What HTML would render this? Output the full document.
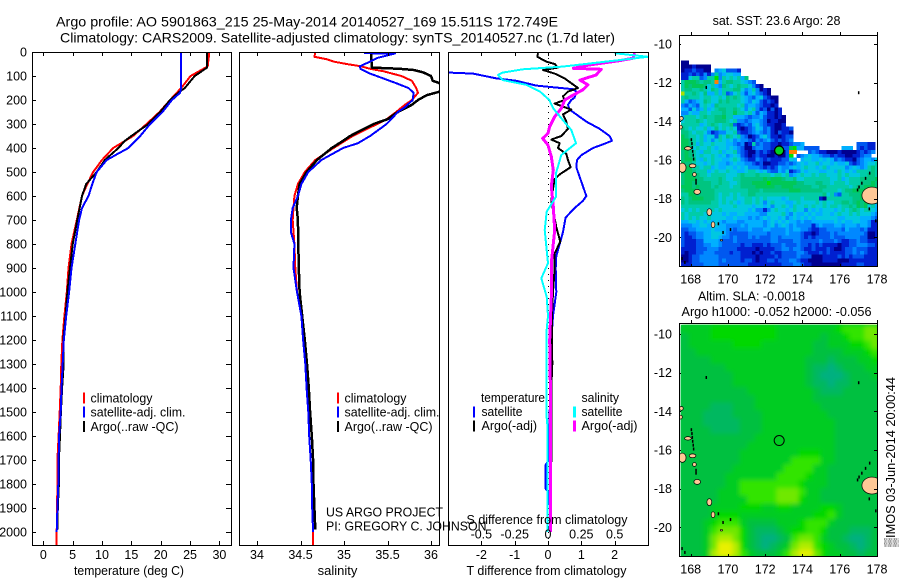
<!DOCTYPE html>
<html lang="en">
<head>
<meta charset="utf-8">
<title>Argo profile 5901863_215</title>
<style>
html,body{margin:0;padding:0;background:#fff;width:900px;height:580px;overflow:hidden}
svg{display:block}
text{font-family:"Liberation Sans",sans-serif;font-size:13px;fill:#000}
.tick{font-size:12.5px}
</style>
</head>
<body>
<svg id="fig" xmlns="http://www.w3.org/2000/svg" width="900" height="580" viewBox="0 0 900 580">
<defs>
<clipPath id="c1"><rect x="32" y="52" width="199" height="494"/></clipPath>
<clipPath id="c2"><rect x="239" y="52" width="200" height="494"/></clipPath>
<clipPath id="c3"><rect x="448" y="52" width="200" height="494"/></clipPath>
<clipPath id="m1"><rect x="679" y="35" width="198" height="232"/></clipPath>
<clipPath id="m2"><rect x="679" y="323" width="198" height="234"/></clipPath>
<filter id="soft" x="-10%" y="-10%" width="120%" height="120%"><feGaussianBlur stdDeviation="2.5"/></filter>
</defs>
<text x="56" y="26.5" style="font-size:14px" textLength="502" lengthAdjust="spacingAndGlyphs">Argo profile: AO 5901863_215 25-May-2014 20140527_169 15.511S 172.749E</text>
<text x="60" y="42.5" style="font-size:14px" textLength="555" lengthAdjust="spacingAndGlyphs">Climatology: CARS2009. Satellite-adjusted climatology: synTS_20140527.nc (1.7d later)</text>

<g id="mapA"></g>
<g id="mapB"></g>
<g id="p1"></g>
<g id="p2"></g>
<g id="p3"></g>

<text x="129" y="575" text-anchor="middle" textLength="110" lengthAdjust="spacingAndGlyphs">temperature (deg C)</text>
<text x="337.5" y="575" text-anchor="middle">salinity</text>
<text x="466.5" y="575" textLength="160" lengthAdjust="spacingAndGlyphs">T difference from climatology</text>
<text x="466.5" y="524" textLength="161" lengthAdjust="spacingAndGlyphs">S difference from climatology</text>

<g>
<rect x="83" y="392.5" width="2" height="11" fill="#f00"/>
<text x="90.5" y="402.5" textLength="62" lengthAdjust="spacingAndGlyphs">climatology</text>
<rect x="83" y="406.5" width="2" height="11" fill="#00f"/>
<text x="90.5" y="416.5" textLength="95" lengthAdjust="spacingAndGlyphs">satellite-adj. clim.</text>
<rect x="83" y="421" width="2" height="11" fill="#000"/>
<text x="90.5" y="431" textLength="88" lengthAdjust="spacingAndGlyphs">Argo(..raw -QC)</text>
</g>
<g>
<rect x="337" y="392.5" width="2" height="11" fill="#f00"/>
<text x="344.5" y="402.5" textLength="62" lengthAdjust="spacingAndGlyphs">climatology</text>
<rect x="337" y="406.5" width="2" height="11" fill="#00f"/>
<text x="344.5" y="416.5" textLength="95" lengthAdjust="spacingAndGlyphs">satellite-adj. clim.</text>
<rect x="337" y="421" width="2" height="11" fill="#000"/>
<text x="344.5" y="431" textLength="88" lengthAdjust="spacingAndGlyphs">Argo(..raw -QC)</text>
</g>
<g>
<text x="481" y="402" textLength="64" lengthAdjust="spacingAndGlyphs">temperature</text>
<rect x="473" y="406.5" width="2" height="11" fill="#00f"/>
<text x="481.5" y="416" textLength="41" lengthAdjust="spacingAndGlyphs">satellite</text>
<rect x="473" y="420.5" width="2" height="11" fill="#000"/>
<text x="481.5" y="430" textLength="55.5" lengthAdjust="spacingAndGlyphs">Argo(-adj)</text>
<text x="581.5" y="402" textLength="37.5" lengthAdjust="spacingAndGlyphs">salinity</text>
<rect x="573" y="406.5" width="3" height="11" fill="#0ff"/>
<text x="581.5" y="416" textLength="41" lengthAdjust="spacingAndGlyphs">satellite</text>
<rect x="573" y="420.5" width="3" height="11" fill="#f0f"/>
<text x="581.5" y="430" textLength="56" lengthAdjust="spacingAndGlyphs">Argo(-adj)</text>
</g>
<text x="326" y="516.5" textLength="117" lengthAdjust="spacingAndGlyphs">US ARGO PROJECT</text>
<text x="326" y="530.5" textLength="160.5" lengthAdjust="spacingAndGlyphs">PI: GREGORY C. JOHNSON</text>

<text x="776.5" y="25" text-anchor="middle" style="font-size:12.5px">sat. SST: 23.6 Argo: 28</text>
<text x="698" y="300.5" textLength="107" lengthAdjust="spacingAndGlyphs" style="font-size:12.5px">Altim. SLA: -0.0018</text>
<text x="681.5" y="316" textLength="190" lengthAdjust="spacingAndGlyphs" style="font-size:12.5px">Argo h1000: -0.052 h2000: -0.056</text>
<text transform="translate(895,547) rotate(-90)" textLength="170" lengthAdjust="spacingAndGlyphs">▒IMOS 03-Jun-2014 20:00:44</text>
</svg>

<script>
/* ---------- profile data ---------- */
const depthTicks = [0,100,200,300,400,500,600,700,800,900,1000,1100,1200,1300,1400,1500,1600,1700,1800,1900,2000];
const tempTicks = [0,5,10,15,20,25,30];
const salTicks = [34,34.5,35,35.5,36];
const tDiffTicks = [-2,-1,0,1,2];
const sDiffTicks = [-0.5,-0.25,0,0.25,0.5];
const sDiffLabels = ['-0.5','-0.25','0','0.25','0.5'];
const tDiffLabels = ['-2','-1','0','1','2'];
const salLabels = ['34','34.5','35','35.5','36'];

const climTempDepth = [0,60,100,150,200,250,300,350,400,450,500,550,600,700,800,900,1000,1100,1200,1300,1400,1500,1600,1700,1800,1900,2000,2057];
const climTemp = [28.3,28,25.1,23.5,21.6,19.8,17.6,15.3,11.9,10,8.5,7.5,6.6,5.7,4.8,4.3,4,3.6,3.25,3.07,2.96,2.8,2.6,2.4,2.4,2.35,2.28,2.28];
const satTempDepth = [0,150,170,200,250,300,350,400,420,450,500,550,600,650,700,800,900,1000,1100,1200,1300,1400,1500,1600,1700,1800,1900,2000];
const satTemp = [23.5,23.5,23.3,21.9,20.3,18.2,16.5,14.5,13,10.8,9.1,8.35,7.7,6.6,6.1,5.45,4.8,4.4,3.9,3.5,3.3,3.1,2.96,2.7,2.6,2.55,2.4,2.28];
const argoTempDepth = [0,65,100,150,170,200,250,300,350,370,400,450,500,550,600,700,800,900,1000,1100,1200,1300,1400,1500,1600,1700,1800,1900,1990];
const argoTemp = [27.9,27.9,25.8,24.1,23,21.6,19.9,17.9,15,13.9,12.8,10.5,9.1,7.3,6.6,5.8,5,4.55,4.1,3.8,3.4,3.47,3.2,3,2.85,2.65,2.65,2.47,2.4];

const climSalDepth = [0,20,30,40,50,60,70,80,100,120,150,170,200,220,250,280,300,350,400,450,500,550,600,650,700,800,900,1000,1100,1200,1300,1400,1500,1600,1700,1800,1900,2000,2057];
const climSal = [34.67,34.66,34.8,34.88,35.03,35.2,35.3,35.45,35.66,35.78,35.83,35.85,35.78,35.7,35.6,35.49,35.38,35.1,34.88,34.67,34.55,34.47,34.43,34.42,34.41,34.43,34.44,34.46,34.51,34.53,34.555,34.57,34.59,34.6,34.617,34.63,34.635,34.645,34.645];
const satSalDepth = [5,6,15,25,40,60,70,90,110,130,150,170,200,230,250,300,350,380,400,450,500,550,600,650,700,750,800,900,1000,1100,1200,1300,1400,1500,1600,1700,1800,1900,2000];
const satSal = [35.23,35.59,35.49,35.38,35.3,35.18,35.19,35.3,35.45,35.6,35.74,35.8,35.79,35.7,35.62,35.49,35.3,35.16,34.99,34.74,34.59,34.51,34.47,34.41,34.39,34.39,34.43,34.42,34.46,34.51,34.53,34.555,34.57,34.59,34.6,34.617,34.63,34.635,34.645];
const argoSalDepth = [0,65,70,75,85,100,120,130,150,165,180,200,220,250,280,300,350,370,400,450,500,550,600,650,700,800,900,1000,1100,1200,1300,1400,1500,1600,1700,1800,1900,1990];
const argoSal = [35.31,35.32,35.64,35.8,35.91,36,36.02,36.1,36.12,36.1,35.95,35.85,35.78,35.62,35.5,35.34,35.07,34.99,34.86,34.69,34.57,34.49,34.47,34.456,34.47,34.475,34.48,34.49,34.52,34.55,34.575,34.595,34.61,34.63,34.645,34.65,34.66,34.67];

const satDiffTDepth = [85,90,110,120,140,155,165,190,200,220,240,260,290,320,350,370,385,400,430,450,480,520,560,600,620,650,690,750,800,850,900,1000,1100,1200,1300,1500,1700,1720,1820,1830,2000];
const satDiffT = [-3.1,-2.25,-1.55,-0.95,-0.35,0.75,0.85,0.8,0.7,0.6,0.65,0.85,1.15,1.55,1.85,1.92,1.65,1.35,1,0.87,0.85,0.95,1.05,1.15,1.05,0.8,0.53,0.45,0.35,0.25,0.23,0.25,0.15,0.1,0.08,0.05,0.02,-0.07,-0.07,0,-0.02];
const argoDiffTDepth = [5,20,40,50,65,75,90,110,130,150,165,185,200,215,240,260,290,320,350,365,380,400,425,450,480,510,530,570,620,730,790,810,840,900,1000,1100,1200,1300,1400,1700,1990];
const argoDiffT = [-0.3,-0.32,-0.05,0.2,0.3,-0.15,0.2,0.5,0.7,0.9,0.6,0.45,0.5,0.2,0.7,0.45,0.55,0.6,0.4,0.1,0.35,0.3,0.55,0.6,0.68,0.35,0.2,0.15,0.1,0.25,0.37,0.3,0.2,0.2,0.15,0.12,0.12,0.13,0.1,0.1,0.05];
const satDiffSDepth = [5,20,43,61,72,86,96,117,137,165,200,235,283,325,380,429,505,603,665,742,880,943,1019,1100,1170,1510,1560,2000];
const satDiffS = [0.5,0.75,0.39,0.11,-0.19,-0.34,-0.375,-0.34,-0.16,-0.06,0.01,0.04,0.11,0.175,0.21,0.1,0.06,0.06,-0.01,-0.025,0,-0.05,-0.01,0,-0.012,-0.012,-0.004,-0.004];
const argoDiffSDepth = [5,26,37,54,68,72,96,117,137,158,179,200,235,269,311,339,360,388,436,492,561,644,742,880,1019,1200,1500,1600,1800,2000];
const argoDiffS = [0.65,0.64,0.525,0.31,0.19,0.4,0.36,0.24,0.3,0.26,0.19,0.125,0.1,0.05,0.0125,0,-0.04,0,0.025,0.04,0.025,0.04,0.05,0.025,0.025,0.0125,0.02,0.018,0.02,0.02];

/* ---------- map data: one letter per cell, '.' = no data ---------- */
const sstLevels = 'abcdefghijkl';
const sstColors = ['#000090','#0020d0','#0058f0','#0088ff','#00b0ff','#00c8e0','#00cca8','#00c480','#00c858','#00e000','#ff8000','#a8e000'];
const sstRows = [
"aa",
"aaabaaaa",
"abbcbbaa.defcccb",
"bbcbcbdbdgdeffee",
"bbfggcdggjdgfgfgeh",
"giiihghhgkeghhggfedc",
"gihiiihfgedhgfghggfdba",
"ghhgghgfhgeggghhfdegdaba",
"lgghgfheegegcdfgecefdcba",
"ghgggfggffgfhghgfedcefcbaa",
"gecdefhgffhghgggfedfecbcba",
"dcedcfgfehgggggfgdeedcbbab",
"eecfdegefghhgghgfdfgdbcacab",
"ddfeeggfggghggiggfgecedbbab",
"egggfghgghhiggeeedcddecbbaba",
"fggghgfgghhhgfgddcdeedcabbaa",
"gggggefghgfgghcbcdcefdcbbaab",
"hgfgffgefhfgfgfbabcdfecdbaabbc",
"hhgfggfdbcddffgcbbcdedcdbacbba",
"ihggfgeffcgfhgfgdcabcefdbbabcc",
"iihgfgefdfgfefdeddcbdcdecbcbcd",
"iihgegffgfffeedcdabgcdccbbabbcdde..............cccbb",
"iihfgffgfeffefedcaacddccbbaccijeecccc......eee.cbcbb",
"hihgfeggffgeffgdcbaacbcbaabackk...cdcbbaaabaaaabcbcd",
"hihgfgffgfefdefecbabcbbaabaacj.cdefeedccbcbbaabbcdd",
"hiihfegfgffeefgfdcbbdcbcbbbccfe.effeefefecdcbbacdeedf",
"ihhgffefgfeedefeeddcbcaabbccdcdefeffgeffefeefcbcdeffg",
"jiiggfggefeeffefefdddcbcbceddefefgffefgeffffdefedeghg",
"iiihgggefgffgffeefggfefdccedfbcdfefffeeffegfefegggghg",
"hiihhggfggggfffghggghgggfggfgdefgffgfggfffgfgfffgghhg",
"hiiihhgggghgffgghhhhhhihiiihgghffgggggggffgefggghhhhi",
"hiihhhhhgghggffghhhiiiijiiiiiiihhggghhggfgggfggghhhih",
"iiihihhhghgggfgghhhhiiiiihhiiihhhhhgghhggggggfghhiiih",
"hiiihhhhhggggggggghhhghhhhhhhiiihhhhhhggggfghhiiiiihg",
"ggiihhhhhgfggfgfgghhgggggggggggggggggghfgdcgghhhiiiif",
"hghiiihhhgfgffgffggfgfgffffefgggfggggbaggggggghhiiiig",
"hghhhhhhggfgfgfefggfgfdfgfffeefgffffgfgffgghhghihiiff",
"ggggggggggffffgffffeffefdffgfegffgfgffgfggfgghgihifge",
"fgfgfggfgfgfffffffefddbdfgffefgffdfefefffefgfghgfggfe",
"gfggggfffffefeeffeeeeddffffgedfeefefeeffefgffgfgfffed",
"gfgfgffgffffeefeeededefeffefdefefefeffffffeeffffeeedc",
"eeffefefefedeeeddeeeeedefefefeededdeeeeeefefeeffeedbb",
"dddeeffeffeeddddedeeeedefdefededdddbdedddeedeeedeedbb",
"ccddeeeefeeeddcdddedddeeddddedeeddcbbccddddcedddcdbbb",
"cbccddeefffedcccccdddddcddddedddcbbabcccdcdddddddcaab",
"cbbcddeeffeddcdcccdcdcccddcdddddcbcbccccdcccddddccaab",
"cbbbcceeeedcccdcccccccccddccccddcccccdcccdcbbccdccbbb",
"cbbbccddeedcccccbccbbbcbcccdcccdccbcbcbbbbabbccdddccb",
"bbbbcccdddcccccbbbbbabbbbccddcddcbbcbbbcbaabccdcccbbb",
"babbccdddccccbccbbbababbcbbccccddcbbbcbcbbbbccdcdcbbb",
"aabccdddddccccccbbbbabbbbcbccccdcccaaabbbbcbcbcccbbbb",
"aabccdddddcdccccbccbabbccbcccddcbbaaaabbbbaaabbbbbbbb",
"bbbcccddddccccccccbbbbbbbbbcccddcbbaaaaaaaabbbbccbbbb",
"bbbcccddddccccccccbbbbbbbbbcccddcbbaaaaaaaabbbbccbbbb"
];
const slaColors = ['#00b080','#00b860','#00c040','#00cc20','#00d800','#30e400','#70e800','#b0ec00','#e8f000'];
const slaRows = [
"333344444444433333333455566",
"233344444444433333323345566",
"233333344443333333223334456",
"223333333333333333222233345",
"222233333333333332221222334",
"222222333333333332110122233",
"222222233333333332100012223",
"222222233333333332110112222",
"222222222333333333211122222",
"222222222233333333222222222",
"222211122233333333322222222",
"222111122223333333332222222",
"222111112223333333333222222",
"222211112223333333333222222",
"222222222233333333333222222",
"222222222333333333333222222",
"222222223333333344433222222",
"222222223333333555533222222",
"222222233333335555332222222",
"222222333333355554332222222",
"222222335555555543332222222",
"222223335555566653322222222",
"222223333555566643322222222",
"222233334443344333344322222",
"222234443333333333445322222",
"222345553222233345553222222",
"222356664211123445542221112",
"222367764210012566532210012",
"222368874210123677543221012",
"222378875322235788643322122"
];
const lonTicks = [168,170,172,174,176,178];
const latTicks = [-10,-12,-14,-16,-18,-20];
const argoLon = 172.749;
const argoLat = -15.511;
/* islands: lon, lat, radius-lon, radius-lat (degrees) */
const islandLon = [167.5,167.45,167.85,168.1,167.55,168.2,168.35,169.0,169.2,169.65,177.73];
const islandLat = [-13.85,-14.3,-15.4,-16.3,-16.4,-16.75,-17.65,-18.7,-19.35,-20.15,-17.84];
const islandRx = [0.1,0.1,0.18,0.18,0.2,0.1,0.18,0.13,0.1,0.06,0.54];
const islandRy = [0.1,0.1,0.09,0.1,0.24,0.1,0.13,0.18,0.15,0.04,0.44];
/* coastline specks: lon, lat */
const speckLon = [168.05,168.08,168.1,168.12,168.15,168.17,168.3,168.3,168.85,169.5,169.75,170.15,177.03,177.62,177.4,177.2,177.05,176.97,177.6,177.95,167.55,167.7];
const speckLat = [-14.95,-15.15,-15.35,-15.55,-15.75,-15.95,-17.05,-17.2,-12.25,-19.3,-19.75,-19.6,-12.52,-16.68,-16.95,-17.2,-17.4,-17.55,-18.53,-19.15,-21.1,-21.3];

/* ---------- axis functions ---------- */
const yDepth = d => 52 + 0.24 * d;
const xTemp = v => 43.3 + 5.87 * v;
const xSal = v => 257 + 87 * (v - 34);
const xDiffT = v => 548 + 33.3 * v;
const xDiffS = v => 548 + 133.3 * v;
const lonX = v => 690.7 + 18.63 * (v - 168);
const latYA = v => 44 + 19.33 * (-10 - v);
const latYB = v => 334 + 19.33 * (-10 - v);

const NS = 'http://www.w3.org/2000/svg';
function make(tag, parent, attrs) {
  const e = document.createElementNS(NS, tag);
  for (const k in attrs) e.setAttribute(k, attrs[k]);
  parent.appendChild(e);
  return e;
}
function series(parent, name, depth, vals, xf, color, width, clip) {
  const pts = vals.map((v, i) => xf(v).toFixed(1) + ',' + yDepth(depth[i]).toFixed(1)).join(' ');
  const pl = make('polyline', parent, {points: pts, fill: 'none', stroke: color, 'stroke-width': width, 'clip-path': 'url(#' + clip + ')', 'shape-rendering': 'crispEdges', 'stroke-linejoin': 'round'});
  
  
}
function frame(parent, x, y, w, h) {
  const r = make('rect', parent, {x: x + 0.5, y: y + 0.5, width: w, height: h, fill: 'none', stroke: '#000', 'stroke-width': 1});
  
  
}
function tickLine(parent, x1, y1, x2, y2) {
  const l = make('line', parent, {x1: x1, y1: y1, x2: x2, y2: y2, stroke: '#000', 'stroke-width': 1, 'shape-rendering': 'crispEdges'});
  
  
}
function label(parent, x, y, s, anchor, cls) {
  const t = make('text', parent, {x: x, y: y, 'text-anchor': anchor, class: cls || 'tick'});
  t.textContent = s;
  
  
}
function xTicks(parent, vals, labels, xf, top, bottom, baseline) {
  vals.forEach((v, i) => {
    const x = Math.round(xf(v)) + 0.5;
    tickLine(parent, x, top, x, top + 4);
    tickLine(parent, x, bottom, x, bottom - 4);
    label(parent, xf(v), baseline, labels[i], 'middle');
  });
}

/* ---------- panel 1: temperature ---------- */
const p1 = document.getElementById('p1');
series(p1, 'climatology-temperature-line', climTempDepth, climTemp, xTemp, '#f00', 2, 'c1');
series(p1, 'argo-temperature-line', argoTempDepth, argoTemp, xTemp, '#000', 2, 'c1');
series(p1, 'satellite-temperature-line', satTempDepth, satTemp, xTemp, '#00f', 2, 'c1');
frame(p1, 32, 52, 199, 493);
depthTicks.forEach(d => {
  const y = Math.round(yDepth(d)) + 0.5;
  tickLine(p1, 32, y, 36, y);
  tickLine(p1, 231, y, 226, y);
  label(p1, 27, yDepth(d) + 4.5, String(d), 'end');
});
xTicks(p1, tempTicks, tempTicks.map(String), xTemp, 52, 545, 559);

/* ---------- panel 2: salinity ---------- */
const p2 = document.getElementById('p2');
series(p2, 'climatology-salinity-line', climSalDepth, climSal, xSal, '#f00', 2, 'c2');
series(p2, 'argo-salinity-line', argoSalDepth, argoSal, xSal, '#000', 2.5, 'c2');
series(p2, 'satellite-salinity-line', satSalDepth, satSal, xSal, '#00f', 2, 'c2');
frame(p2, 239, 52, 200, 493);
xTicks(p2, salTicks, salLabels, xSal, 52, 545, 559);

/* ---------- panel 3: differences ---------- */
const p3 = document.getElementById('p3');
const zero = make('line', p3, {x1: 548.5, y1: 52, x2: 548.5, y2: 540, stroke: '#000', 'stroke-width': 1, 'stroke-dasharray': '1 5', 'shape-rendering': 'crispEdges'});


series(p3, 'satellite-t-difference-line', satDiffTDepth, satDiffT, xDiffT, '#00f', 2, 'c3');
series(p3, 'argo-t-difference-line', argoDiffTDepth, argoDiffT, xDiffT, '#000', 2, 'c3');
series(p3, 'argo-s-difference-line', argoDiffSDepth, argoDiffS, xDiffS, '#f0f', 3, 'c3');
series(p3, 'satellite-s-difference-line', satDiffSDepth, satDiffS, xDiffS, '#0ff', 2, 'c3');
frame(p3, 448, 52, 200, 493);
xTicks(p3, tDiffTicks, tDiffLabels, xDiffT, 52, 545, 559);
sDiffTicks.forEach((v, i) => label(p3, xDiffS(v), 538.5, sDiffLabels[i], 'middle'));

/* ---------- maps ---------- */
function drawCells(parent, rows, colorOf, x0, y0, cw, ch) {
  const g = make('g', parent, {'shape-rendering': 'crispEdges'});
  
  
  rows.forEach((row, r) => {
    for (let c = 0; c < row.length; c++) {
      const col = colorOf(row[c]);
      if (!col) continue;
      const cell = make('rect', g, {x: (x0 + c * cw).toFixed(2), y: (y0 + r * ch).toFixed(2), width: (cw + 0.4).toFixed(2), height: (ch + 0.4).toFixed(2), fill: col});
      
      
    }
  });
  return g;
}
function drawLand(parent, latY, clip) {
  const g = make('g', parent, {'clip-path': 'url(#' + clip + ')'});
  
  
  islandLon.forEach((lon, i) => {
    const e = make('ellipse', g, {cx: lonX(lon), cy: latY(islandLat[i]), rx: islandRx[i] * 18.63, ry: islandRy[i] * 19.33, fill: '#ffc896', stroke: '#000', 'stroke-width': 0.7});
    
    
  });
  speckLon.forEach((lon, i) => {
    const s = make('rect', g, {x: lonX(lon) - 1, y: latY(speckLat[i]) - 1.5, width: 1.5, height: 3, fill: '#000'});
    
    
  });
}
function mapAxes(parent, latY, top, bottom, baseline) {
  frame(parent, 679, top, 198, bottom - top);
  lonTicks.forEach(v => {
    const x = Math.round(lonX(v)) + 0.5;
    tickLine(parent, x, top - 3, x, top);
    tickLine(parent, x, bottom, x, bottom - 2);
    label(parent, lonX(v), baseline, String(v), 'middle');
  });
  latTicks.forEach(v => {
    const y = Math.round(latY(v)) + 0.5;
    tickLine(parent, 679, y, 681, y);
    tickLine(parent, 877, y, 874, y);
    label(parent, 672, latY(v) + 4.5, String(v), 'end');
  });
}
const mapA = document.getElementById('mapA');
const sstClip = make('g', mapA, {'clip-path': 'url(#m1)'});


drawCells(sstClip, sstRows, ch => sstColors[sstLevels.indexOf(ch)], 681, 60.7, 3.73, 3.88);
drawLand(mapA, latYA, 'm1');
const argoDotA = make('circle', mapA, {cx: lonX(argoLon), cy: latYA(argoLat), r: 4.6, fill: '#00d020', stroke: '#000', 'stroke-width': 1.3});


mapAxes(mapA, latYA, 35, 266, 283.5);

const mapB = document.getElementById('mapB');
const slaClip = make('g', mapB, {'clip-path': 'url(#m2)'});


const slaBase = make('rect', slaClip, {x: 681, y: 325, width: 197, height: 232, fill: '#00c840'});


const slaCells = drawCells(slaClip, slaRows, ch => slaColors[+ch], 681, 325, 7.33, 7.75);
slaCells.setAttribute('filter', 'url(#soft)');
drawLand(mapB, latYB, 'm2');
const argoDotB = make('circle', mapB, {cx: lonX(argoLon), cy: latYB(argoLat), r: 5, fill: 'none', stroke: '#000', 'stroke-width': 1});


mapAxes(mapB, latYB, 323, 556, 573.5);
</script>
</body>
</html>
